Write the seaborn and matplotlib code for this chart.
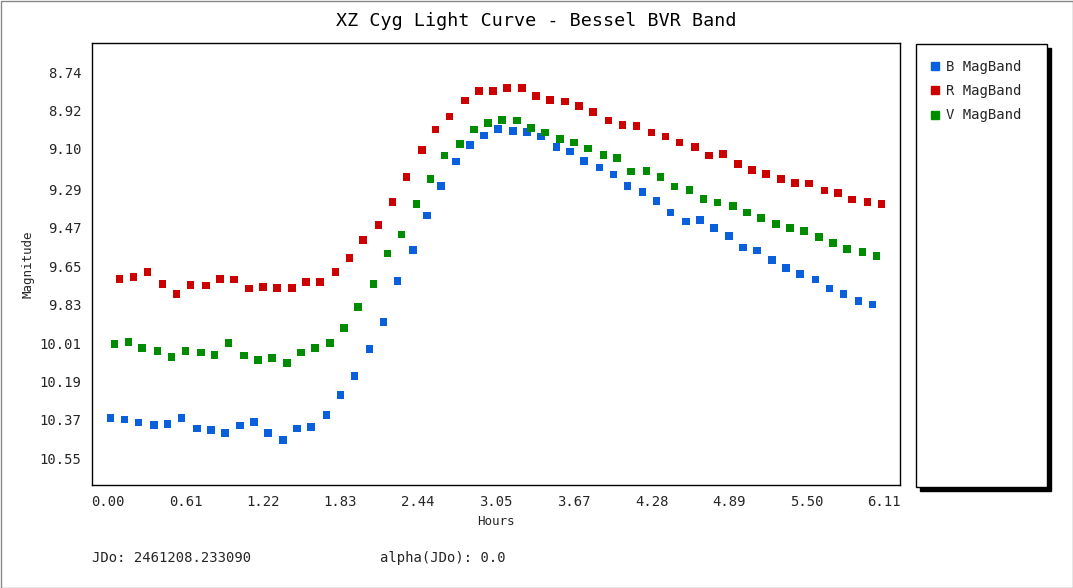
import pandas as pd
import matplotlib
matplotlib.use("Agg")
import matplotlib.pyplot as plt
import seaborn as sns
from matplotlib.patches import Rectangle
from matplotlib.lines import Line2D

# time of B samples (hours); V and R samples are taken slightly later
hours_b = [0.02, 0.13, 0.24, 0.36, 0.47, 0.58, 0.70, 0.81, 0.92, 1.04, 1.15, 1.26, 1.38, 1.49,
           1.60, 1.72, 1.83, 1.94, 2.06, 2.17, 2.28, 2.40, 2.51, 2.62, 2.74, 2.85, 2.96, 3.07,
           3.19, 3.30, 3.41, 3.53, 3.64, 3.75, 3.87, 3.98, 4.09, 4.21, 4.32, 4.43, 4.55, 4.66,
           4.77, 4.89, 5.00, 5.11, 5.23, 5.34, 5.45, 5.57, 5.68, 5.79, 5.91, 6.02]
v_lag = 0.03
r_lag = 0.07

mag_b = [10.360, 10.369, 10.383, 10.393, 10.388, 10.360, 10.411, 10.416, 10.430, 10.397, 10.379,
         10.430, 10.463, 10.411, 10.402, 10.346, 10.252, 10.163, 10.037, 9.910, 9.718, 9.573,
         9.413, 9.273, 9.160, 9.081, 9.038, 9.006, 9.015, 9.020, 9.043, 9.090, 9.113, 9.156,
         9.188, 9.221, 9.273, 9.301, 9.343, 9.399, 9.441, 9.432, 9.470, 9.507, 9.563, 9.577,
         9.620, 9.657, 9.685, 9.713, 9.755, 9.779, 9.812, 9.830]
mag_v = [10.013, 10.004, 10.032, 10.046, 10.074, 10.046, 10.055, 10.065, 10.009, 10.069, 10.088,
         10.079, 10.102, 10.055, 10.032, 10.009, 9.938, 9.840, 9.732, 9.591, 9.502, 9.357,
         9.240, 9.132, 9.076, 9.010, 8.978, 8.964, 8.968, 9.001, 9.024, 9.053, 9.071, 9.099,
         9.128, 9.142, 9.207, 9.203, 9.231, 9.277, 9.292, 9.334, 9.352, 9.367, 9.399, 9.423,
         9.451, 9.470, 9.484, 9.512, 9.540, 9.568, 9.582, 9.601]
mag_r = [9.709, 9.699, 9.676, 9.732, 9.779, 9.737, 9.741, 9.709, 9.713, 9.755, 9.746, 9.751,
         9.751, 9.723, 9.723, 9.676, 9.610, 9.526, 9.456, 9.348, 9.231, 9.104, 9.010, 8.949,
         8.874, 8.828, 8.828, 8.814, 8.814, 8.851, 8.870, 8.879, 8.898, 8.926, 8.968, 8.987,
         8.992, 9.024, 9.043, 9.071, 9.090, 9.132, 9.123, 9.170, 9.198, 9.217, 9.240, 9.259,
         9.263, 9.296, 9.306, 9.338, 9.348, 9.357]

x_ticks = [0.00, 0.61, 1.22, 1.83, 2.44, 3.05, 3.67, 4.28, 4.89, 5.50, 6.11]
y_ticks = [8.74, 8.92, 9.10, 9.29, 9.47, 9.65, 9.83, 10.01, 10.19, 10.37, 10.55]

colors = {"B": "#0a5fdc", "R": "#cc0000", "V": "#008c00"}

df = pd.concat([
    pd.DataFrame({"Hours": hours_b, "Magnitude": mag_b, "Band": "B"}),
    pd.DataFrame({"Hours": [h + r_lag for h in hours_b], "Magnitude": mag_r, "Band": "R"}),
    pd.DataFrame({"Hours": [h + v_lag for h in hours_b], "Magnitude": mag_v, "Band": "V"}),
])

sns.set_style("white")
plt.rcParams["font.family"] = ["DejaVu Sans Mono"]

W, H = 1073, 588
fig = plt.figure(figsize=(W / 100, H / 100), dpi=100)
ax = fig.add_axes([92 / W, 1 - 485 / H, 808 / W, 442 / H])

sns.scatterplot(data=df, x="Hours", y="Magnitude", hue="Band", palette=colors,
                marker="s", s=30, linewidth=0, ax=ax, legend=False)

ax.set_xlim(-0.126, 6.236)
ax.set_ylim(10.675, 8.604)
ax.set_xticks(x_ticks)
ax.set_xticklabels([f"{t:.2f}" for t in x_ticks], fontsize=10)
ax.set_yticks(y_ticks)
ax.set_yticklabels([f"{t:.2f}" for t in y_ticks], fontsize=10)
ax.tick_params(direction="out", length=4, width=1, color="black")
ax.set_xlabel("Hours", fontsize=9)
ax.set_ylabel("Magnitude", fontsize=9)
for sp in ax.spines.values():
    sp.set_color("black")
    sp.set_linewidth(1)

fig.text(0.5, 1 - 21 / H, "XZ Cyg Light Curve - Bessel BVR Band", ha="center", va="center",
         fontsize=13.2, color="black")
fig.text(92 / W, 1 - 558 / H, "JDo: 2461208.233090", ha="left", va="center", fontsize=10)
fig.text(380 / W, 1 - 558 / H, "alpha(JDo): 0.0", ha="left", va="center", fontsize=10)

# legend panel with drop shadow
fig.patches.append(Rectangle((920 / W, 1 - 491 / H), 131 / W, 443 / H, transform=fig.transFigure,
                             facecolor="black", edgecolor="black", zorder=0))
fig.patches.append(Rectangle((916 / W, 1 - 487 / H), 131 / W, 443 / H, transform=fig.transFigure,
                             facecolor="white", edgecolor="black", linewidth=1, zorder=1))
handles = [Line2D([], [], marker="s", linestyle="", color=colors[b], markersize=6)
           for b in ["B", "R", "V"]]
fig.legend(handles, ["B MagBand", "R MagBand", "V MagBand"], loc="upper left",
           bbox_to_anchor=(922 / W, 1 - 54 / H), frameon=False, fontsize=10,
           handletextpad=0.3, handlelength=1.0, labelspacing=0.75, borderaxespad=0)

# outer frame
fig.patches.append(Rectangle((0.5 / W, 0.5 / H), 1 - 1 / W, 1 - 1 / H, transform=fig.transFigure,
                             facecolor="none", edgecolor="#888888", linewidth=1))

fig.savefig("out.png", dpi=100)
